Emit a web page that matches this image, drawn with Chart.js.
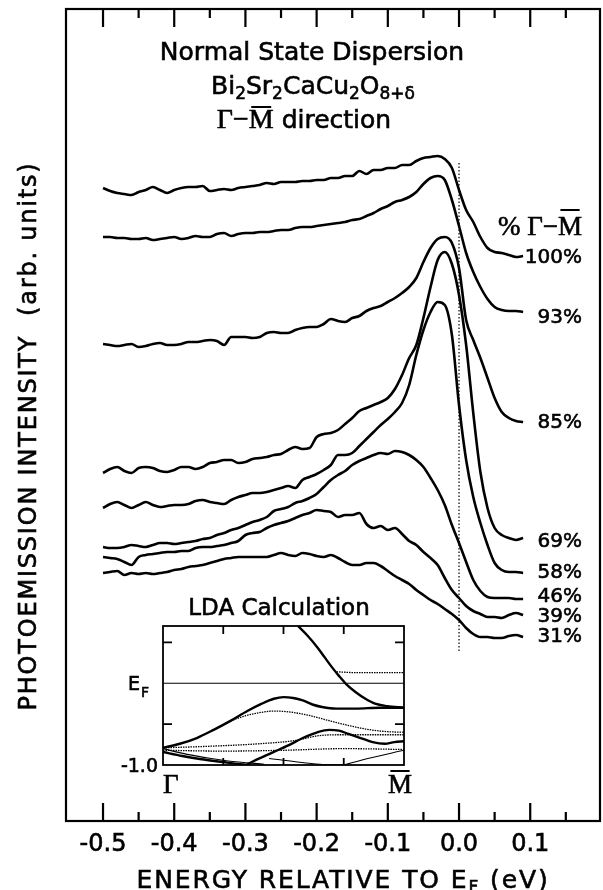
<!DOCTYPE html>
<html><head><meta charset="utf-8">
<script src="https://cdn.jsdelivr.net/npm/chart.js@4/dist/chart.umd.min.js"></script>
<style>
html,body{margin:0;padding:0;background:#fff;}
#wrap{position:relative;width:603px;height:890px;background:#fff;}
#main{position:absolute;left:0;top:0;}
#inset{position:absolute;left:100px;top:580px;}
</style></head><body>
<div id="wrap"><canvas id="main" width="603" height="890"></canvas><canvas id="inset" width="320" height="220"></canvas></div>
<script>
// ---------- DATA ----------
const energies = [-0.50,-0.49,-0.48,-0.47,-0.46,-0.45,-0.44,-0.43,-0.42,-0.41,-0.40,-0.39,-0.38,-0.37,-0.36,-0.35,-0.34,-0.33,-0.32,-0.31,-0.30,-0.29,-0.28,-0.27,-0.26,-0.25,-0.24,-0.23,-0.22,-0.21,-0.20,-0.19,-0.18,-0.17,-0.16,-0.15,-0.14,-0.13,-0.12,-0.11,-0.10,-0.09,-0.08,-0.07,-0.06,-0.05,-0.04,-0.03,-0.02,-0.01,0.00,0.01,0.02,0.03,0.04,0.05,0.06,0.07,0.08,0.09];
const curve100 = [633,630,628,627,626,629,631,634,631,628,631,633,634,634,635,630,631,632,631,633,634,635,636,638,637,639,639,639,640,640,641,641,643,643,645,645,650,647,651,651,653,653,656,656,660,663,664,665,662,653,631,611,599,584,573,569,568,566,564,565];
const curve93 = [584,584,583,583,582,582,583,581,582,583,584,582,583,585,584,584,587,588,585,587,588,588,589,589,590,591,591,593,594,594,595,596,597,598,599,601,602,605,608,612,615,619,621,624,629,637,643,645,641,621,595,568,549,534,522,514,511,510,510,509];
const curve85 = [477,476,475,476,477,474,475,477,478,476,476,477,479,479,480,481,480,476,484,484,484,483,484,488,489,488,488,491,493,494,494,497,502,500,499,503,505,510,513,515,519,523,528,534,543,559,573,582,584,578,553,501,481,463,443,423,409,403,400,399];
const curve69 = [348,352,354,350,348,353,354,353,350,349,351,354,354,352,354,358,359,361,361,358,359,362,363,364,366,367,371,374,372,373,384,387,388,391,397,403,410,413,416,419,423,432,446,463,476,503,534,561,569,557,526,476,408,349,313,293,286,283,281,283];
const curve58 = [313,317,319,316,313,316,319,316,314,315,316,316,317,320,321,319,318,317,321,324,326,328,328,329,331,333,335,333,341,344,347,351,356,366,366,368,375,382,389,396,402,409,418,436,466,491,509,519,516,486,416,361,324,298,276,258,251,249,249,248];
const curve46 = [274,273,273,274,276,275,274,276,278,278,277,278,279,280,282,283,286,288,291,293,296,299,301,304,310,312,314,318,320,323,327,334,341,346,350,356,360,363,366,368,367,370,369,366,361,354,343,331,316,296,278,259,241,230,224,223,223,223,222,222];
const curve39 = [264,263,262,259,256,264,266,267,268,269,269,270,270,273,274,274,275,276,278,280,286,288,289,293,296,298,300,303,306,308,311,310,309,304,306,306,308,297,293,295,291,293,287,280,276,269,263,256,243,231,223,215,210,207,204,204,203,206,208,206];
const curve31 = [248,249,250,246,248,247,248,247,248,249,251,252,254,255,256,258,260,262,263,264,264,264,264,264,266,268,266,265,268,267,265,264,266,263,259,256,256,258,258,255,250,245,241,237,231,226,221,217,212,207,201,193,187,184,184,183,183,185,186,184];
const curveLabels = ['100%','93%','85%','69%','58%','46%','39%','31%'];
const labelLevels = [563,503,398,279,248,224,204,184];
const xTickValues = [-0.5,-0.45,-0.4,-0.35,-0.3,-0.25,-0.2,-0.15,-0.1,-0.05,0,0.05,0.1,0.15];
const xTickLabels = ['-0.5','','-0.4','','-0.3','','-0.2','','-0.1','','0.0','','0.1',''];
const fermiEnergy = 0.0;
const fermiMarkerSpan = [658, 168];

// LDA inset bands: [k (Gamma=0 .. M=1), E (eV)]
const bandSteep = [[0.56,0.70],[0.60,0.58],[0.64,0.44],[0.67,0.32],[0.70,0.20],[0.73,0.09],[0.76,-0.01],[0.80,-0.11],[0.84,-0.19],[0.88,-0.25],[0.93,-0.28],[1.0,-0.30]];
const bandFlat = [[0.72,0.14],[0.80,0.13],[0.90,0.13],[1.0,0.13]];
const fermiLevel = [[0,0],[1,0]];
const bandHump1 = [[0,-0.79],[0.07,-0.74],[0.14,-0.67],[0.21,-0.57],[0.28,-0.46],[0.35,-0.34],[0.41,-0.25],[0.46,-0.19],[0.50,-0.17],[0.54,-0.18],[0.58,-0.21],[0.62,-0.26],[0.66,-0.29],[0.72,-0.31],[0.80,-0.31],[0.90,-0.30],[1.0,-0.30]];
const bandHump2 = [[0.28,-0.46],[0.34,-0.40],[0.40,-0.36],[0.46,-0.34],[0.52,-0.35],[0.60,-0.39],[0.68,-0.45],[0.76,-0.51],[0.84,-0.56],[0.92,-0.59],[1.0,-0.60]];
const bandHump3 = [[0.35,-0.99],[0.40,-0.92],[0.46,-0.84],[0.52,-0.76],[0.58,-0.67],[0.64,-0.60],[0.69,-0.57],[0.73,-0.58],[0.77,-0.62],[0.82,-0.67],[0.87,-0.72],[0.92,-0.74],[0.96,-0.72],[1.0,-0.71]];
const bandLow1 = [[0,-0.79],[0.2,-0.77],[0.4,-0.74],[0.55,-0.70],[0.65,-0.64],[0.75,-0.63],[0.9,-0.63],[1.0,-0.63]];
const bandLow2 = [[0,-0.82],[0.25,-0.83],[0.5,-0.82],[0.75,-0.80],[1.0,-0.81]];
const bandDown1 = [[0,-0.84],[0.08,-0.89],[0.16,-0.93],[0.24,-0.96],[0.32,-0.99],[0.36,-1.0]];
const bandDown2 = [[0,-0.80],[0.1,-0.87],[0.2,-0.92],[0.3,-0.96],[0.42,-0.99]];
const bandV1 = [[0.44,-0.92],[0.55,-0.96],[0.65,-0.99],[0.75,-1.0]];
const bandV2 = [[0.75,-1.0],[0.85,-0.92],[1.0,-0.82]];

// ---------- STYLE / DRAW ----------
const SANS = '"DejaVu Sans", sans-serif';
const SERIF = '"Liberation Serif", "DejaVu Serif", serif';
Chart.defaults.font.family = SANS;
Chart.defaults.color = '#000';
const EMB = 0.6; // slight emboldening stroke to mimic the heavy print

function heavyText(ctx, t, x, y) {
  ctx.fillText(t, x, y);
  ctx.lineWidth = EMB; ctx.strokeText(t, x, y);
}
function textRuns(ctx, parts, cx, base, spacing) {
  ctx.letterSpacing = (spacing || 0) + 'px';
  let total = 0;
  parts.forEach(p => { ctx.font = p.f; p.w = ctx.measureText(p.t).width; total += p.w; });
  let xx = cx - total / 2;
  parts.forEach(p => {
    ctx.font = p.f;
    heavyText(ctx, p.t, xx, base + (p.dy || 0));
    if (p.bar) ctx.fillRect(xx + p.w * 0.1, base - p.bar, p.w * 0.8, 2);
    xx += p.w;
  });
  ctx.letterSpacing = '0px';
}

const series = [curve100, curve93, curve85, curve69, curve58, curve46, curve39, curve31];
const mainDatasets = series.map((s, i) => ({
  label: curveLabels[i],
  data: energies.map((e, j) => ({x: e, y: s[j]})),
  borderColor: '#000', borderWidth: 2.6, pointRadius: 0,
  cubicInterpolationMode: 'monotone', fill: false
}));

const mainDecor = {
  id: 'mainDecor',
  afterDraw(chart) {
    const {ctx, chartArea: a, scales: {x, y}} = chart;
    ctx.save();
    ctx.strokeStyle = '#000'; ctx.fillStyle = '#000';
    ctx.lineWidth = 2.2;
    ctx.strokeRect(a.left, a.top, a.right - a.left, a.bottom - a.top);
    // inward ticks top & bottom
    ctx.lineWidth = 2.2;
    xTickValues.forEach((v, i) => {
      const px = x.getPixelForValue(v);
      const len = xTickLabels[i] ? 18 : 9;
      ctx.beginPath();
      ctx.moveTo(px, a.top); ctx.lineTo(px, a.top + len);
      ctx.moveTo(px, a.bottom); ctx.lineTo(px, a.bottom - len);
      ctx.stroke();
    });
    // dotted Fermi marker
    ctx.lineWidth = 1.2; ctx.setLineDash([1.5, 2]);
    const fx = x.getPixelForValue(fermiEnergy);
    ctx.beginPath();
    ctx.moveTo(fx, y.getPixelForValue(fermiMarkerSpan[0]));
    ctx.lineTo(fx, y.getPixelForValue(fermiMarkerSpan[1]));
    ctx.stroke();
    ctx.setLineDash([]);
    // curve labels
    ctx.font = '20px ' + SANS; ctx.textAlign = 'right'; ctx.textBaseline = 'middle';
    curveLabels.forEach((t, i) => heavyText(ctx, t, a.right - 18, y.getPixelForValue(labelLevels[i])));
    // titles
    ctx.textAlign = 'left'; ctx.textBaseline = 'alphabetic';
    const sub = '17px ' + SANS, big = '25px ' + SANS;
    textRuns(ctx, [{t: 'Normal State Dispersion', f: big}], 312, 60);
    textRuns(ctx, [{t:'Bi',f:big},{t:'2',f:sub,dy:5},{t:'Sr',f:big},{t:'2',f:sub,dy:5},{t:'CaCu',f:big},{t:'2',f:sub,dy:5},{t:'O',f:big},{t:'8+δ',f:sub,dy:5}], 313, 94);
    textRuns(ctx, [{t:'Γ−',f:'28px '+SERIF},{t:'M',f:'28px '+SERIF,bar:22},{t:' direction',f:big}], 304, 128);
    // header for labels
    textRuns(ctx, [{t:'% Γ−',f:'27px '+SERIF},{t:'M',f:'27px '+SERIF,bar:26}], 540, 235);
    // x title
    textRuns(ctx, [{t:'ENERGY RELATIVE TO E',f:big},{t:'F',f:sub,dy:5},{t:' (eV)',f:big}], 343, 888, 1.9);
    // y title
    ctx.translate(36, 436); ctx.rotate(-Math.PI / 2);
    ctx.textAlign = 'center'; ctx.font = '24px ' + SANS;
    ctx.letterSpacing = '1.8px';
    heavyText(ctx, 'PHOTOEMISSION INTENSITY  (arb. units)', 0, 0);
    ctx.letterSpacing = '0px';
    ctx.restore();
  }
};

new Chart(document.getElementById('main'), {
  type: 'line',
  data: {datasets: mainDatasets},
  options: {
    responsive: false, animation: false, devicePixelRatio: 1, events: [],
    layout: {padding: {left: 66, top: 9, right: 3, bottom: 0}},
    plugins: {legend: {display: false}, tooltip: {enabled: false}},
    scales: {
      x: {
        type: 'linear', min: -0.552, max: 0.198,
        grid: {display: false, drawTicks: false}, border: {display: false},
        afterBuildTicks: s => { s.ticks = xTickValues.map(v => ({value: v})); },
        afterFit: s => { s.height = 69; },
        ticks: {autoSkip: false, maxRotation: 0, minRotation: 0, padding: 9,
          font: {size: 24, family: SANS}, color: '#000',
          textStrokeColor: '#000', textStrokeWidth: EMB,
          callback: (v, i) => xTickLabels[i]}
      },
      y: {type: 'linear', min: 0, max: 812, display: false}
    }
  },
  plugins: [mainDecor]
});

// ---------- INSET ----------
const THICK = {borderWidth: 2.4, borderDash: []};
const THIN = {borderWidth: 1.1, borderDash: []};
const DOTTED = {borderWidth: 1.3, borderDash: [1.5, 1]};
const insetBands = [
  [bandSteep, THICK], [bandFlat, DOTTED], [fermiLevel, THIN], [bandHump1, THICK],
  [bandHump2, DOTTED], [bandHump3, THICK], [bandLow1, DOTTED], [bandLow2, DOTTED],
  [bandDown1, THICK], [bandDown2, THIN], [bandV1, THIN], [bandV2, THIN]
];
const insetDecor = {
  id: 'insetDecor',
  afterDraw(chart) {
    const {ctx, chartArea: a, scales: {x, y}} = chart;
    ctx.save();
    ctx.strokeStyle = '#000'; ctx.fillStyle = '#000';
    ctx.lineWidth = 1.8;
    ctx.strokeRect(a.left, a.top, a.right - a.left, a.bottom - a.top);
    ctx.beginPath();
    [0.25, 0.5, 0.75].forEach(k => {
      const px = x.getPixelForValue(k);
      ctx.moveTo(px, a.top); ctx.lineTo(px, a.top + 8);
      ctx.moveTo(px, a.bottom); ctx.lineTo(px, a.bottom - 7);
    });
    [0.5, -0.5].forEach(E => {
      const py = y.getPixelForValue(E);
      ctx.moveTo(a.left, py); ctx.lineTo(a.left + 9, py);
      ctx.moveTo(a.right, py); ctx.lineTo(a.right - 9, py);
    });
    ctx.stroke();
    ctx.textBaseline = 'alphabetic';
    ctx.textAlign = 'center';
    ctx.font = '23px ' + SANS;
    heavyText(ctx, 'LDA Calculation', 179, 35);
    ctx.textAlign = 'left';
    const ef = y.getPixelForValue(0);
    ctx.font = '19px ' + SANS;
    const ew = ctx.measureText('E').width;
    heavyText(ctx, 'E', 28, ef + 7);
    ctx.font = '14px ' + SANS; heavyText(ctx, 'F', 28 + ew + 1, ef + 14);
    ctx.textAlign = 'right'; ctx.font = '19px ' + SANS;
    heavyText(ctx, '-1.0', a.left - 5, y.getPixelForValue(-1) + 7);
    ctx.font = '27px ' + SERIF; ctx.textAlign = 'left';
    heavyText(ctx, 'Γ', x.getPixelForValue(0), a.bottom + 28);
    ctx.textAlign = 'right';
    const mx = x.getPixelForValue(1) + 8;
    heavyText(ctx, 'M', mx, a.bottom + 28);
    const mw = ctx.measureText('M').width;
    ctx.fillRect(mx - mw * 0.9, a.bottom + 5, mw * 0.8, 2);
    ctx.restore();
  }
};
new Chart(document.getElementById('inset'), {
  type: 'line',
  data: {datasets: insetBands.map(([pts, st]) => ({
    data: pts.map(p => ({x: p[0], y: p[1]})),
    borderColor: '#000', borderWidth: st.borderWidth, borderDash: st.borderDash,
    pointRadius: 0, cubicInterpolationMode: 'monotone', fill: false
  }))},
  options: {
    responsive: false, animation: false, devicePixelRatio: 1, events: [],
    layout: {padding: {left: 63, top: 46, right: 16, bottom: 35}},
    plugins: {legend: {display: false}, tooltip: {enabled: false}},
    scales: {
      x: {type: 'linear', min: 0, max: 1, display: false},
      y: {type: 'linear', min: -1.0, max: 0.7, display: false}
    }
  },
  plugins: [insetDecor]
});
</script>
</body></html>
